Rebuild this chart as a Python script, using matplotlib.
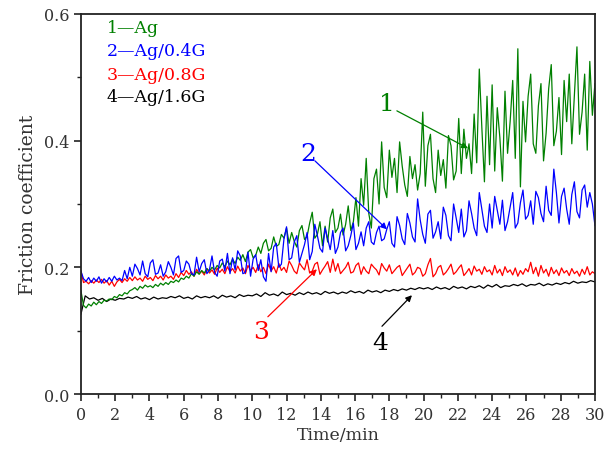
import numpy as np
import matplotlib
matplotlib.use('Agg')
import matplotlib.pyplot as plt

# friction coefficient traces
t_step = 0.15
ag = [0.163, 0.140, 0.136, 0.142, 0.139, 0.145, 0.141, 0.146, 0.143, 0.148,
      0.147, 0.150, 0.149, 0.154, 0.152, 0.157, 0.155, 0.160, 0.158, 0.163,
      0.165, 0.168, 0.164, 0.170, 0.167, 0.172, 0.169, 0.171, 0.168, 0.173,
      0.170, 0.175, 0.172, 0.176, 0.173, 0.178, 0.176, 0.180, 0.177, 0.183,
      0.181, 0.186, 0.183, 0.190, 0.186, 0.193, 0.189, 0.195, 0.191, 0.198,
      0.194, 0.200, 0.196, 0.203, 0.199, 0.207, 0.201, 0.210, 0.204, 0.213,
      0.206, 0.216, 0.211, 0.220, 0.209, 0.224, 0.228, 0.215, 0.219, 0.232,
      0.222, 0.238, 0.244, 0.226, 0.230, 0.248, 0.233, 0.236, 0.252, 0.246,
      0.262, 0.238, 0.255, 0.241, 0.232, 0.258, 0.266, 0.244, 0.249, 0.270,
      0.287, 0.246, 0.252, 0.272, 0.234, 0.265, 0.240, 0.278, 0.292, 0.255,
      0.262, 0.284, 0.251, 0.268, 0.297, 0.258, 0.272, 0.310, 0.265, 0.340,
      0.298, 0.372, 0.285, 0.262, 0.340, 0.355, 0.300, 0.398, 0.326, 0.310,
      0.385, 0.342, 0.372, 0.318, 0.398, 0.360, 0.330, 0.312, 0.375, 0.340,
      0.362, 0.322, 0.348, 0.445, 0.328, 0.392, 0.410, 0.340, 0.318, 0.385,
      0.345, 0.370, 0.325, 0.408, 0.392, 0.338, 0.352, 0.435, 0.348, 0.418,
      0.372, 0.395, 0.348, 0.442, 0.365, 0.513, 0.420, 0.335, 0.470, 0.362,
      0.488, 0.352, 0.452, 0.405, 0.336, 0.478, 0.380, 0.430, 0.495, 0.372,
      0.545, 0.327, 0.462, 0.398, 0.470, 0.505, 0.395, 0.380, 0.455, 0.490,
      0.368, 0.412, 0.482, 0.520, 0.392, 0.415, 0.468, 0.378, 0.495, 0.430,
      0.505, 0.395, 0.472, 0.548, 0.410, 0.445, 0.505, 0.385, 0.525, 0.440,
      0.490]
ag_04g = [0.194, 0.182, 0.178, 0.184, 0.176, 0.183, 0.178, 0.185, 0.175, 0.182,
          0.177, 0.184, 0.178, 0.186, 0.180, 0.183, 0.179, 0.195, 0.182, 0.200,
          0.186, 0.205, 0.198, 0.188, 0.210, 0.190, 0.185, 0.207, 0.212, 0.189,
          0.191, 0.204, 0.186, 0.193, 0.209, 0.200, 0.188, 0.214, 0.218, 0.192,
          0.195, 0.210, 0.205, 0.190, 0.188, 0.216, 0.193, 0.206, 0.212, 0.190,
          0.196, 0.218, 0.192, 0.186, 0.210, 0.213, 0.194, 0.222, 0.190, 0.215,
          0.196, 0.226, 0.218, 0.190, 0.192, 0.224, 0.186, 0.213, 0.220, 0.195,
          0.212, 0.185, 0.178, 0.222, 0.193, 0.232, 0.238, 0.200, 0.205, 0.245,
          0.264, 0.212, 0.215, 0.240, 0.250, 0.208, 0.222, 0.236, 0.255, 0.212,
          0.225, 0.268, 0.250, 0.230, 0.224, 0.262, 0.245, 0.228, 0.258, 0.222,
          0.232, 0.255, 0.262, 0.226, 0.234, 0.250, 0.270, 0.228, 0.238, 0.256,
          0.234, 0.262, 0.272, 0.240, 0.236, 0.255, 0.265, 0.242, 0.245, 0.260,
          0.272, 0.238, 0.232, 0.280, 0.266, 0.245, 0.236, 0.285, 0.270, 0.248,
          0.240, 0.308, 0.275, 0.252, 0.238, 0.284, 0.290, 0.246, 0.256, 0.272,
          0.245, 0.295, 0.282, 0.250, 0.242, 0.300, 0.278, 0.255, 0.292, 0.248,
          0.258, 0.305, 0.285, 0.262, 0.250, 0.318, 0.292, 0.265, 0.255, 0.300,
          0.262, 0.312, 0.290, 0.268, 0.306, 0.258, 0.272, 0.295, 0.318, 0.262,
          0.270, 0.302, 0.322, 0.276, 0.282, 0.305, 0.268, 0.320, 0.310, 0.285,
          0.272, 0.328, 0.290, 0.282, 0.355, 0.318, 0.270, 0.312, 0.325, 0.292,
          0.268, 0.315, 0.335, 0.288, 0.278, 0.322, 0.330, 0.295, 0.318, 0.300,
          0.266]
ag_08g = [0.194, 0.176, 0.178, 0.174, 0.179, 0.175, 0.180, 0.176, 0.181, 0.175,
          0.179, 0.172, 0.178, 0.170, 0.177, 0.181, 0.176, 0.182, 0.178, 0.184,
          0.179, 0.185, 0.180, 0.183, 0.178, 0.186, 0.181, 0.184, 0.179, 0.187,
          0.182, 0.186, 0.180, 0.188, 0.183, 0.186, 0.181, 0.190, 0.184, 0.192,
          0.187, 0.195, 0.189, 0.193, 0.186, 0.197, 0.190, 0.194, 0.188, 0.198,
          0.191, 0.196, 0.189, 0.199, 0.192, 0.197, 0.190, 0.201, 0.193, 0.198,
          0.191, 0.202, 0.194, 0.199, 0.190, 0.203, 0.195, 0.200, 0.192, 0.204,
          0.193, 0.200, 0.190, 0.205, 0.194, 0.201, 0.191, 0.206, 0.195, 0.200,
          0.192, 0.210, 0.203, 0.194, 0.190, 0.207, 0.201, 0.196, 0.212, 0.191,
          0.194, 0.205, 0.208, 0.189, 0.196, 0.202, 0.209, 0.192, 0.213, 0.194,
          0.206, 0.190, 0.195, 0.200, 0.208, 0.191, 0.193, 0.203, 0.207, 0.189,
          0.201, 0.194, 0.190, 0.205, 0.200, 0.196, 0.188, 0.206, 0.199, 0.194,
          0.204, 0.190, 0.195, 0.200, 0.203, 0.187, 0.193, 0.199, 0.205, 0.188,
          0.192, 0.200, 0.198, 0.186, 0.190, 0.204, 0.214, 0.185, 0.190, 0.200,
          0.203, 0.188, 0.192, 0.198, 0.205, 0.189, 0.193, 0.199, 0.204, 0.187,
          0.192, 0.198, 0.188, 0.202, 0.194, 0.197, 0.189, 0.201, 0.193, 0.196,
          0.188, 0.203, 0.191, 0.197, 0.187, 0.201, 0.192, 0.196, 0.188, 0.199,
          0.186, 0.195, 0.189, 0.198, 0.193, 0.208, 0.190, 0.200, 0.186, 0.203,
          0.191, 0.197, 0.186, 0.200, 0.190, 0.196, 0.187, 0.199, 0.191, 0.195,
          0.187, 0.198, 0.190, 0.194, 0.186, 0.197, 0.189, 0.201, 0.188, 0.193,
          0.190]

t_step_black = 0.25
ag_16g = [0.126, 0.155, 0.150, 0.152, 0.148, 0.151, 0.146, 0.150, 0.148, 0.151,
          0.150, 0.153, 0.151, 0.154, 0.150, 0.152, 0.149, 0.153, 0.150, 0.152,
          0.151, 0.154, 0.152, 0.155, 0.151, 0.153, 0.150, 0.155, 0.152, 0.154,
          0.152, 0.155, 0.151, 0.156, 0.153, 0.155, 0.152, 0.157, 0.154, 0.156,
          0.155, 0.158, 0.154, 0.160, 0.156, 0.158, 0.155, 0.161, 0.157, 0.159,
          0.156, 0.160, 0.157, 0.161, 0.158, 0.160, 0.157, 0.162, 0.159, 0.161,
          0.158, 0.161, 0.159, 0.163, 0.160, 0.162, 0.159, 0.164, 0.161, 0.163,
          0.160, 0.164, 0.162, 0.165, 0.163, 0.166, 0.164, 0.167, 0.165, 0.168,
          0.166, 0.168, 0.165, 0.169, 0.166, 0.168, 0.165, 0.170, 0.167, 0.169,
          0.166, 0.170, 0.168, 0.171, 0.167, 0.172, 0.169, 0.173, 0.168, 0.171,
          0.170, 0.173, 0.171, 0.174, 0.170, 0.173, 0.172, 0.175, 0.171, 0.174,
          0.172, 0.175, 0.173, 0.176, 0.174, 0.178, 0.175, 0.177, 0.176, 0.179,
          0.177]

labels = ['1\u2014Ag', '2\u2014Ag/0.4G', '3\u2014Ag/0.8G', '4\u2014Ag/1.6G']
colors = ['#008000', '#0000ff', '#ff0000', '#000000']

plt.rcParams['font.family'] = ['DejaVu Serif']

fig = plt.figure(figsize=(6.04, 4.52), dpi=100)
ax = fig.add_axes([0.134, 0.126, 0.851, 0.841])

t = np.arange(len(ag)) * t_step
t_black = np.arange(len(ag_16g)) * t_step_black

ax.plot(t_black, ag_16g, color=colors[3], lw=0.9)
ax.plot(t, ag_08g, color=colors[2], lw=0.9)
ax.plot(t, ag, color=colors[0], lw=0.9)
ax.plot(t, ag_04g, color=colors[1], lw=0.9)

ax.set_xlim(0, 30)
ax.set_ylim(0, 0.6)
ax.set_xticks(np.arange(0, 31, 2))
ax.set_xticks(np.arange(0, 31, 1), minor=True)
ax.set_yticks([0.0, 0.2, 0.4, 0.6])
ax.set_yticks([0.1, 0.3, 0.5], minor=True)
ax.set_yticklabels(['0.0', '0.2', '0.4', '0.6'])
ax.tick_params(which='major', direction='out', length=5, width=1.2,
               labelsize=11.5, colors='#222222', labelcolor='#333333')
ax.tick_params(which='minor', direction='out', length=3, width=1.0, colors='#222222')
for s in ax.spines.values():
    s.set_linewidth(1.3)
    s.set_color('#222222')

ax.set_xlabel('Time/min', fontsize=12.5, labelpad=2, color='#333333')
ax.set_ylabel('Friction coefficient', fontsize=13.5, labelpad=5, color='#333333')

# legend written as coloured text lines
leg_y = [0.579, 0.542, 0.505, 0.470]
for lab, c, y in zip(labels, colors, leg_y):
    ax.text(1.5, y, lab, color=c, fontsize=12.5, va='center', ha='left')

# numbered call-outs with arrows
notes = [('1', (18.44, 0.447), (22.59, 0.388), (17.85, 0.458)),
         ('2', (13.66, 0.368), (17.86, 0.260), (13.25, 0.380)),
         ('3', (10.91, 0.122), (13.77, 0.197), (10.50, 0.098)),
         ('4', (17.57, 0.107), (19.32, 0.156), (17.45, 0.082))]
for (num, start, end, tpos), c in zip(notes, colors):
    ax.annotate('', xy=end, xytext=start,
                arrowprops=dict(arrowstyle='-|>', color=c, lw=0.9,
                                mutation_scale=9, shrinkA=0, shrinkB=0))
    ax.text(tpos[0], tpos[1], num, color=c, fontsize=18, ha='center', va='center')

fig.savefig('out.png', dpi=100)
